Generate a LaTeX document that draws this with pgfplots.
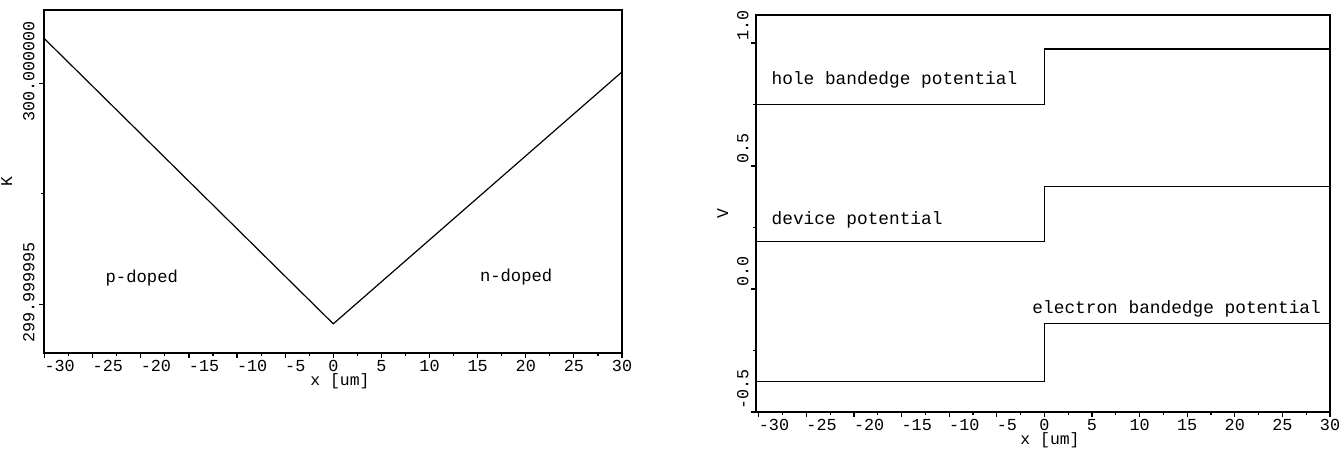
\documentclass[border=0pt]{standalone}
\usepackage{fontspec}
\setmainfont{Liberation Mono}
\usepackage{pgfplots}
\pgfplotsset{compat=1.18}
\begin{document}
\begin{tikzpicture}
\useasboundingbox (0,0) rectangle (669.5pt,226.5pt);
\pgfplotsset{
  panel/.style={
    scale only axis,
    axis line style={line width=0.6pt},
    tick align=outside, tick pos=left,
    major tick length=2.5pt, minor tick length=1.5pt,
    every tick/.style={line width=0.6pt},
    xtick={-30,-25,...,30},
    xticklabels={\rlap{-30},\rlap{-25},\rlap{-20},\rlap{-15},\rlap{-10},\rlap{-5},0,5,10,15,20,25,30},
    minor xtick={-27.5,-22.5,...,27.5},
    ticklabel style={font=\fontsize{8.4}{9}\selectfont},
    label style={font=\fontsize{8.2}{9}\selectfont},
    xticklabel style={inner sep=1pt},
    xlabel={x [um]},
    xlabel style={xshift=3.5pt, yshift=1.5pt, inner sep=1pt},
  }
}
% left panel: temperature, y plotted as (T - 300 K) in microkelvin
\begin{axis}[panel,
  at={(22pt,50pt)}, anchor=south west,
  width=289pt, height=171.5pt,
  xmin=-30.06, xmax=30, ymin=-6.1, ymax=1.66,
  ytick={-5,0}, yticklabels={299.999995,300.000000},
  minor ytick={-2.5},
  yticklabel style={rotate=90, anchor=south, xshift=6pt, inner sep=2pt},
  ylabel={K},
]
\addplot[black, line width=0.6pt] coordinates {(-30.06,1.02) (0,-5.44) (30,0.26)};
\node[anchor=center, font=\fontsize{8.6}{10}\selectfont] at (axis cs:-19.9,-4.41) {p-doped};
\node[anchor=center, font=\fontsize{8.6}{10}\selectfont] at (axis cs:19.0,-4.39) {n-doped};
\end{axis}
% right panel: potentials
\begin{axis}[panel,
  at={(378pt,20.5pt)}, anchor=south west,
  width=287pt, height=198.5pt,
  xmin=-30.3, xmax=30, ymin=-0.5, ymax=1.114,
  ytick={-0.5,0,0.5,1}, yticklabels={-0.5,0.0,0.5,1.0},
  minor ytick={-0.25,0.25,0.75},
  yticklabel style={rotate=90, anchor=south west, inner sep=1pt},
  ylabel={V},
]
\addplot[black, line width=0.6pt] coordinates {(-30.3,0.751) (0,0.751) (0,0.976) (30,0.976)};
\addplot[black, line width=0.6pt] coordinates {(-30.3,0.193) (0,0.193) (0,0.416) (30,0.416)};
\addplot[black, line width=0.6pt] coordinates {(-30.3,-0.375) (0,-0.375) (0,-0.139) (30,-0.139)};
\node[anchor=west, font=\fontsize{8.9}{10}\selectfont] at (axis cs:-29.4,0.85) {hole bandedge potential};
\node[anchor=west, font=\fontsize{8.9}{10}\selectfont] at (axis cs:-29.4,0.28) {device potential};
\node[anchor=west, font=\fontsize{8.9}{10}\selectfont] at (axis cs:-2.0,-0.081) {electron bandedge potential};
\end{axis}
\end{tikzpicture}
\end{document}
